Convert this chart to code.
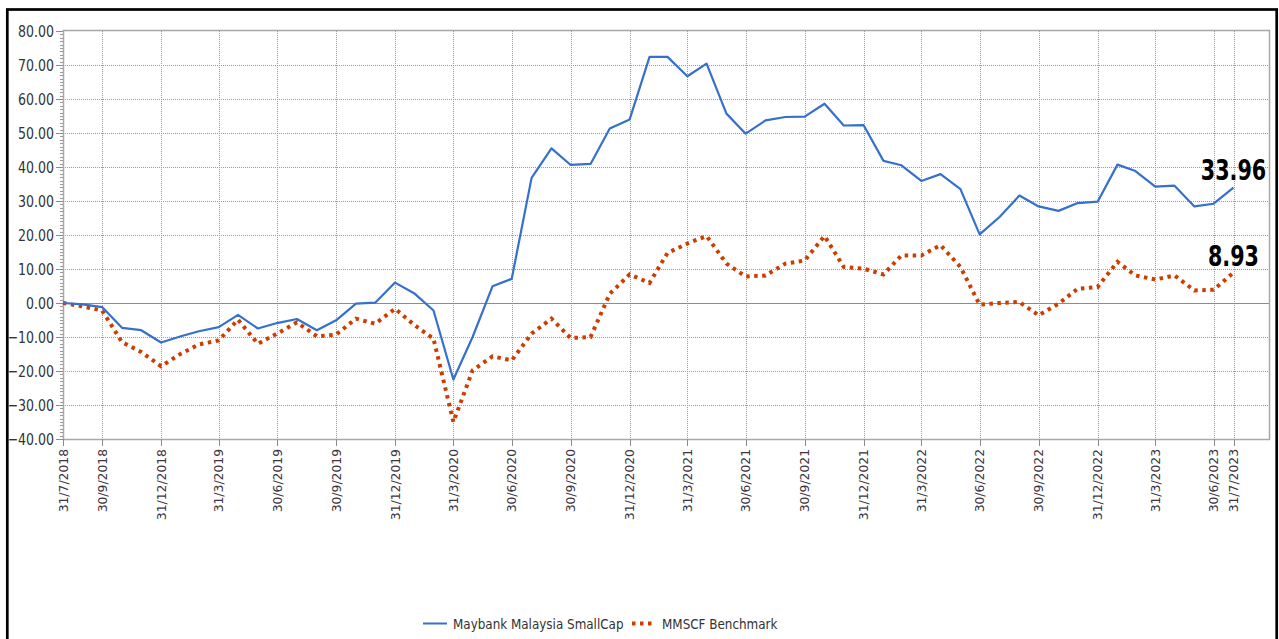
<!DOCTYPE html>
<html>
<head>
<meta charset="utf-8">
<script src="https://cdn.jsdelivr.net/npm/d3@7"></script>
<style>
    body { margin: 0; background: #fff; }
    #chart-area { width: 1279px; height: 639px; overflow: hidden; }
    text { font-family: "DejaVu Sans Condensed", "DejaVu Sans", sans-serif; }
</style>
</head>
<body>
<div id="chart-area"></div>
<script>
// month-end dates: 31/7/2018 .. 31/7/2023
const months = d3.utcMonth
    .range(new Date(Date.UTC(2018, 7, 1)), new Date(Date.UTC(2023, 8, 1)))
    .map((d) => d3.utcDay.offset(d, -1));

const fundValues = [
    0.0, -0.4, -1.2, -7.3, -8.0, -11.6, -9.8, -8.3, -7.1, -3.5,
    -7.5, -5.9, -4.7, -8.0, -5.1, -0.2, 0.1, 6.0, 2.7, -2.2,
    -22.5, -10.0, 4.9, 7.1, 36.8, 45.5, 40.6, 40.9, 51.3, 54.0,
    72.4, 72.4, 66.7, 70.4, 55.7, 49.8, 53.7, 54.7, 54.8, 58.6,
    52.2, 52.3, 41.8, 40.5, 35.9, 37.9, 33.5, 20.2, 25.3, 31.6,
    28.4, 27.1, 29.4, 29.8, 40.7, 38.8, 34.2, 34.5, 28.4, 29.2,
    33.96
];

const benchmarkValues = [
    0.0, -1.0, -2.2, -11.5, -14.4, -18.6, -14.9, -12.2, -11.0, -4.9,
    -12.0, -9.0, -5.7, -9.8, -9.3, -4.6, -6.1, -1.7, -6.6, -10.5,
    -35.0, -19.8, -15.7, -16.9, -9.0, -4.6, -10.3, -10.0, 2.7, 8.4,
    5.9, 14.7, 17.5, 19.7, 11.6, 7.8, 8.1, 11.6, 12.5, 19.7,
    10.6, 10.1, 8.4, 14.0, 14.0, 17.0, 10.6, -0.5, 0.0, 0.3,
    -3.6, -0.2, 4.2, 4.7, 12.1, 8.1, 6.9, 8.1, 3.7, 3.9,
    8.93
];

const tickLabels = [
    "31/7/2018", "30/9/2018", "31/12/2018", "31/3/2019", "30/6/2019",
    "30/9/2019", "31/12/2019", "31/3/2020", "30/6/2020", "30/9/2020",
    "31/12/2020", "31/3/2021", "30/6/2021", "30/9/2021", "31/12/2021",
    "31/3/2022", "30/6/2022", "30/9/2022", "31/12/2022", "31/3/2023",
    "30/6/2023", "31/7/2023"
];

const seriesNames = ["Maybank Malaysia SmallCap", "MMSCF Benchmark"];
const yTicks = [-40, -30, -20, -10, 0, 10, 20, 30, 40, 50, 60, 70, 80];

class PerformanceVis {
    constructor(_parentElement) {
        this.parentElement = _parentElement;
        this.initVis();
    }

    initVis() {
        let vis = this;

        vis.width = 1279;
        vis.height = 639;
        vis.plot = { left: 63, right: 1269, top: 31, bottom: 439 };

        vis.svg = d3
            .select(`#${vis.parentElement}`)
            .append("svg")
            .attr("width", vis.width)
            .attr("height", vis.height);

        // outer black frame
        vis.svg
            .append("rect")
            .attr("x", 7.3)
            .attr("y", 9.5)
            .attr("width", 1269.4)
            .attr("height", 660)
            .attr("fill", "none")
            .attr("stroke", "#000")
            .attr("stroke-width", 2.7);

        vis.parseTick = d3.utcParse("%d/%m/%Y");

        vis.x = d3
            .scaleUtc()
            .domain([months[0], months[months.length - 1]])
            .range([63, 1233.5]);

        vis.y = d3
            .scaleLinear()
            .domain([-40, 80])
            .range([vis.plot.bottom, vis.plot.top]);

        vis.drawGrid();
        vis.drawAxes();
        vis.drawLines();
        vis.drawLegend();
    }

    drawGrid() {
        let vis = this;
        let p = vis.plot;

        let grid = vis.svg.append("g").attr("class", "grid");

        grid.selectAll("line.h")
            .data(yTicks.filter((d) => d !== 0 && d !== -40 && d !== 80))
            .enter()
            .append("line")
            .attr("class", "h")
            .attr("x1", p.left)
            .attr("x2", p.right)
            .attr("y1", (d) => Math.round(vis.y(d)) + 0.5)
            .attr("y2", (d) => Math.round(vis.y(d)) + 0.5)
            .attr("stroke", "#9a9a9a")
            .attr("stroke-dasharray", "1,1");

        grid.selectAll("line.v")
            .data(tickLabels.slice(1))
            .enter()
            .append("line")
            .attr("class", "v")
            .attr("x1", (d) => Math.round(vis.x(vis.parseTick(d))) + 0.5)
            .attr("x2", (d) => Math.round(vis.x(vis.parseTick(d))) + 0.5)
            .attr("y1", p.top)
            .attr("y2", p.bottom)
            .attr("stroke", "#9a9a9a")
            .attr("stroke-dasharray", "1,1");

        // zero line
        grid.append("line")
            .attr("x1", p.left)
            .attr("x2", p.right)
            .attr("y1", Math.round(vis.y(0)) + 0.5)
            .attr("y2", Math.round(vis.y(0)) + 0.5)
            .attr("stroke", "#8c8c8c")
            .attr("stroke-width", 1.2);

        // plot border
        grid.append("rect")
            .attr("x", p.left + 0.5)
            .attr("y", p.top - 0.5)
            .attr("width", p.right - p.left)
            .attr("height", p.bottom - p.top + 1)
            .attr("fill", "none")
            .attr("stroke", "#a8a8a8")
            .attr("stroke-width", 1.5);
    }

    drawAxes() {
        let vis = this;
        let p = vis.plot;

        // y axis: major + minor ticks
        let yAxis = vis.svg.append("g").attr("class", "y-axis");

        yAxis.selectAll("line.minor")
            .data(d3.range(-40, 81, 1))
            .enter()
            .append("line")
            .attr("class", "minor")
            .attr("x1", p.left - 3)
            .attr("x2", p.left)
            .attr("y1", (d) => Math.round(vis.y(d)) + 0.5)
            .attr("y2", (d) => Math.round(vis.y(d)) + 0.5)
            .attr("stroke", "#9a9a9a");

        yAxis.selectAll("line.major")
            .data(yTicks)
            .enter()
            .append("line")
            .attr("class", "major")
            .attr("x1", p.left - 7)
            .attr("x2", p.left)
            .attr("y1", (d) => Math.round(vis.y(d)) + 0.5)
            .attr("y2", (d) => Math.round(vis.y(d)) + 0.5)
            .attr("stroke", "#8c8c8c");

        // reference glyphs look a bit taller than wide
        yAxis.selectAll("text")
            .data(yTicks)
            .enter()
            .append("text")
            .attr("transform", (d) => `translate(54, ${vis.y(d)}) scale(1, 1.15)`)
            .attr("dy", "0.36em")
            .attr("text-anchor", "end")
            .attr("font-size", "14px")
            .attr("fill", "#333")
            .text((d) => d3.format(".2f")(d));

        // x axis: ticks + rotated labels
        let xAxis = vis.svg.append("g").attr("class", "x-axis");

        xAxis.selectAll("line")
            .data(tickLabels)
            .enter()
            .append("line")
            .attr("x1", (d) => Math.round(vis.x(vis.parseTick(d))) + 0.5)
            .attr("x2", (d) => Math.round(vis.x(vis.parseTick(d))) + 0.5)
            .attr("y1", p.bottom)
            .attr("y2", p.bottom + 7)
            .attr("stroke", "#8c8c8c");

        xAxis.selectAll("text")
            .data(tickLabels)
            .enter()
            .append("text")
            .attr(
                "transform",
                (d) =>
                    `translate(${vis.x(vis.parseTick(d))}, 449) rotate(-90) scale(1.1, 1)`
            )
            .attr("dy", "0.36em")
            .attr("text-anchor", "end")
            .attr("font-size", "12.5px")
            .attr("fill", "#3d3340")
            .text((d) => d);
    }

    drawLines() {
        let vis = this;

        vis.line = d3
            .line()
            .x((d) => vis.x(d.date))
            .y((d) => vis.y(d.value));

        let fund = months.map((m, i) => ({ date: m, value: fundValues[i] }));
        let bench = months.map((m, i) => ({ date: m, value: benchmarkValues[i] }));

        vis.svg
            .append("path")
            .datum(bench)
            .attr("d", vis.line)
            .attr("fill", "none")
            .attr("stroke", "#cc3d00")
            .attr("stroke-width", 4)
            .attr("stroke-dasharray", "3.5,4.5");

        vis.svg
            .append("path")
            .datum(fund)
            .attr("d", vis.line)
            .attr("fill", "none")
            .attr("stroke", "#3570cc")
            .attr("stroke-width", 2.2)
            .attr("stroke-linejoin", "round");

        // end value labels
        let last = months.length - 1;
        let endLabels = [
            { value: fundValues[last], y: 180 },
            { value: benchmarkValues[last], y: 266 },
        ];

        vis.svg
            .selectAll("text.end-label")
            .data(endLabels)
            .enter()
            .append("text")
            .attr("class", "end-label")
            .attr(
                "transform",
                (d) => `translate(${vis.x(months[last])}, ${d.y}) scale(1, 1.2)`
            )
            .attr("text-anchor", "middle")
            .attr("font-size", "23px")
            .attr("font-weight", "bold")
            .attr("fill", "#000")
            .text((d) => d.value.toFixed(2));
    }

    drawLegend() {
        let vis = this;

        let legend = vis.svg.append("g").attr("class", "legend");

        legend.append("line")
            .attr("x1", 423)
            .attr("x2", 447)
            .attr("y1", 623.5)
            .attr("y2", 623.5)
            .attr("stroke", "#3570cc")
            .attr("stroke-width", 2);

        legend.append("text")
            .attr("x", 453)
            .attr("y", 624)
            .attr("dy", "0.36em")
            .attr("font-size", "13.3px")
            .attr("fill", "#333")
            .text(seriesNames[0]);

        legend.append("line")
            .attr("x1", 632)
            .attr("x2", 653)
            .attr("y1", 623.5)
            .attr("y2", 623.5)
            .attr("stroke", "#cc3d00")
            .attr("stroke-width", 4)
            .attr("stroke-dasharray", "3.5,4.5");

        legend.append("text")
            .attr("x", 662)
            .attr("y", 624)
            .attr("dy", "0.36em")
            .attr("font-size", "13.3px")
            .attr("fill", "#333")
            .text(seriesNames[1]);
    }
}

new PerformanceVis("chart-area");
</script>
</body>
</html>
